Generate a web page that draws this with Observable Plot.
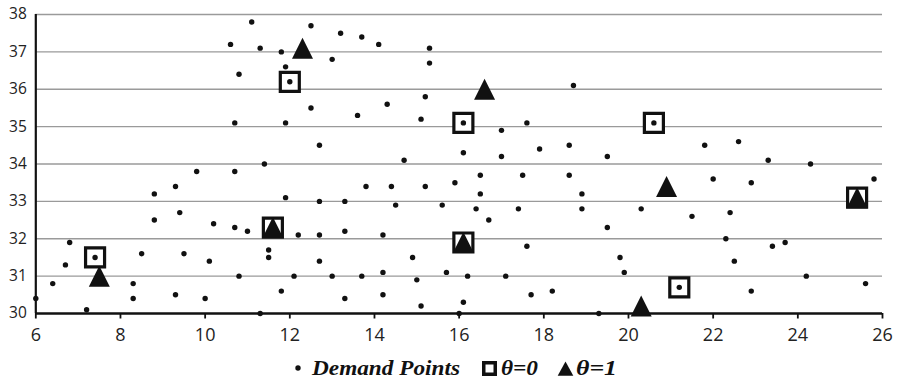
<!DOCTYPE html>
<html>
<head>
<meta charset="utf-8">
<script src="https://cdn.jsdelivr.net/npm/d3@7"></script>
<script src="https://cdn.jsdelivr.net/npm/@observablehq/plot@0.6"></script>
<style>
  html, body { margin: 0; padding: 0; background: #fff; }
  #chart svg { display: block; }
  #legend { display: block; }
</style>
</head>
<body>
<div id="chart"></div>
<svg id="legend" width="898" height="27"></svg>
<script>
// ---- Data ----
const demandX = [11.1,10.6,11.3,11.8,11.9,10.8,12.0,10.7,11.9,11.4,12.5,13.2,13.7,14.1,15.3,13.0,15.3,18.7,15.2,12.5,14.3,13.6,15.1,16.1,17.0,17.6,12.7,14.7,16.1,17.0,17.9,18.6,20.6,19.5,21.8,22.6,23.3,24.3,6.0,6.4,6.7,6.8,7.2,7.4,8.3,8.3,8.5,8.8,8.8,9.3,9.4,9.5,9.3,9.8,10.0,10.1,10.2,10.7,10.7,11.0,10.8,11.3,11.6,11.5,11.5,11.8,11.9,12.1,12.2,16.5,17.5,18.6,13.8,14.4,15.2,15.9,16.5,12.7,13.3,14.5,15.6,16.4,17.4,16.7,12.7,13.3,14.2,16.1,12.7,14.9,17.6,13.0,13.7,14.2,15.0,15.7,16.2,17.1,13.3,14.2,15.1,16.1,16.0,17.7,18.2,22.0,22.9,25.8,25.4,18.9,18.9,20.3,21.5,22.4,19.5,22.3,23.4,23.7,19.8,19.9,22.5,24.2,25.6,21.2,22.9,19.3];
const demandY = [37.8,37.2,37.1,37.0,36.6,36.4,36.2,35.1,35.1,34.0,37.7,37.5,37.4,37.2,37.1,36.8,36.7,36.1,35.8,35.5,35.6,35.3,35.2,35.1,34.9,35.1,34.5,34.1,34.3,34.2,34.4,34.5,35.1,34.2,34.5,34.6,34.1,34.0,30.4,30.8,31.3,31.9,30.1,31.5,30.8,30.4,31.6,33.2,32.5,33.4,32.7,31.6,30.5,33.8,30.4,31.4,32.4,33.8,32.3,32.2,31.0,30.0,32.3,31.7,31.5,30.6,33.1,31.0,32.1,33.7,33.7,33.7,33.4,33.4,33.4,33.5,33.2,33.0,33.0,32.9,32.9,32.8,32.8,32.5,32.1,32.2,32.1,31.9,31.4,31.5,31.8,31.0,31.0,31.1,30.9,31.1,31.0,31.0,30.4,30.5,30.2,30.3,30.0,30.5,30.6,33.6,33.5,33.6,33.1,33.2,32.8,32.8,32.6,32.7,32.3,32.0,31.8,31.9,31.5,31.1,31.4,31.0,30.8,30.7,30.6,30.0];

const theta0X = [7.4, 11.6, 12.0, 16.1, 16.1, 20.6, 21.2, 25.4];
const theta0Y = [31.5, 32.3, 36.2, 35.1, 31.9, 35.1, 30.7, 33.1];

const theta1X = [7.5, 11.6, 12.3, 16.6, 16.1, 20.9, 20.3, 25.4];
const theta1Y = [31.0, 32.3, 37.1, 36.0, 31.9, 33.4, 30.2, 33.1];

const xTicks = [6, 8, 10, 12, 14, 16, 18, 20, 22, 24, 26];
const yTicks = [30, 31, 32, 33, 34, 35, 36, 37, 38];

const legendLabels = ["Demand Points", "θ=0", "θ=1"];

// ---- Build tables ----
const demand = demandX.map((x, i) => ({x, y: demandY[i]}));
const theta0 = theta0X.map((x, i) => ({x, y: theta0Y[i]}));
const theta1 = theta1X.map((x, i) => ({x, y: theta1Y[i]}));

// bounding-box centred symbols (Excel style), size = PI r^2
const squareSym = {draw(ctx, size) {
  const h = Math.sqrt(size / Math.PI);
  ctx.moveTo(-h, -h); ctx.lineTo(h, -h); ctx.lineTo(h, h); ctx.lineTo(-h, h); ctx.closePath();
}};
const triSym = {draw(ctx, size) {
  const h = Math.sqrt(size / Math.PI);
  ctx.moveTo(0, -h); ctx.lineTo(h, h); ctx.lineTo(-h, h); ctx.closePath();
}};

const chart = Plot.plot({
  width: 898,
  height: 352,
  marginLeft: 35.3,
  marginRight: 16,
  marginTop: 14,
  marginBottom: 39,
  style: {fontFamily: "'Open Sans', sans-serif", color: "#222", background: "#fff"},
  x: {domain: [6, 26]},
  y: {domain: [30, 38]},
  marks: [
    Plot.gridY(yTicks.filter(d => d > 30), {stroke: "#9a9a9a", strokeOpacity: 1, strokeWidth: 1.4}),
    Plot.axisY({ticks: yTicks, tickSize: 0, tickPadding: 9, fontSize: 15.5, label: null, fill: "#222"}),
    Plot.axisX({ticks: xTicks, tickSize: 5.5, tickPadding: 9, fontSize: 18, label: null, fill: "#222", stroke: "#111", strokeWidth: 1.8}),
    Plot.ruleY([30], {stroke: "#111", strokeWidth: 2.6}),
    Plot.ruleX([6], {y1: 30, y2: 38, stroke: "#111", strokeWidth: 2.2}),
    Plot.dot(theta0, {x: "x", y: "y", symbol: squareSym, r: 9.5, fill: "#fff", stroke: "#111", strokeWidth: 3.2}),
    Plot.dot(demand, {x: "x", y: "y", r: 2.7, fill: "#111", stroke: "none"}),
    Plot.dot(theta1, {x: "x", y: "y", symbol: triSym, r: 10.5, fill: "#111", stroke: "none"})
  ]
});
document.getElementById("chart").appendChild(chart);

// ---- Legend below the plot ----
const lg = d3.select("#legend");
const font = "'Liberation Serif', 'Times New Roman', serif";
function legendText(x, label, len) {
  lg.append("text").attr("x", x).attr("y", 23).text(label)
    .attr("font-family", font).attr("font-weight", "bold").attr("font-style", "italic")
    .attr("font-size", 21.5).attr("fill", "#111")
    .attr("textLength", len).attr("lengthAdjust", "spacingAndGlyphs");
}
lg.append("circle").attr("cx", 298).attr("cy", 16).attr("r", 2.7).attr("fill", "#111");
legendText(312, legendLabels[0], 148);
lg.append("rect").attr("x", 483.75).attr("y", 10.75).attr("width", 11.5).attr("height", 11.5)
  .attr("fill", "#fff").attr("stroke", "#111").attr("stroke-width", 3.5);
legendText(501, legendLabels[1], 37);
lg.append("path").attr("d", "M565.5,9.5L573.3,23.7L557.7,23.7Z").attr("fill", "#111");
legendText(576, legendLabels[2], 41);
</script>
</body>
</html>
